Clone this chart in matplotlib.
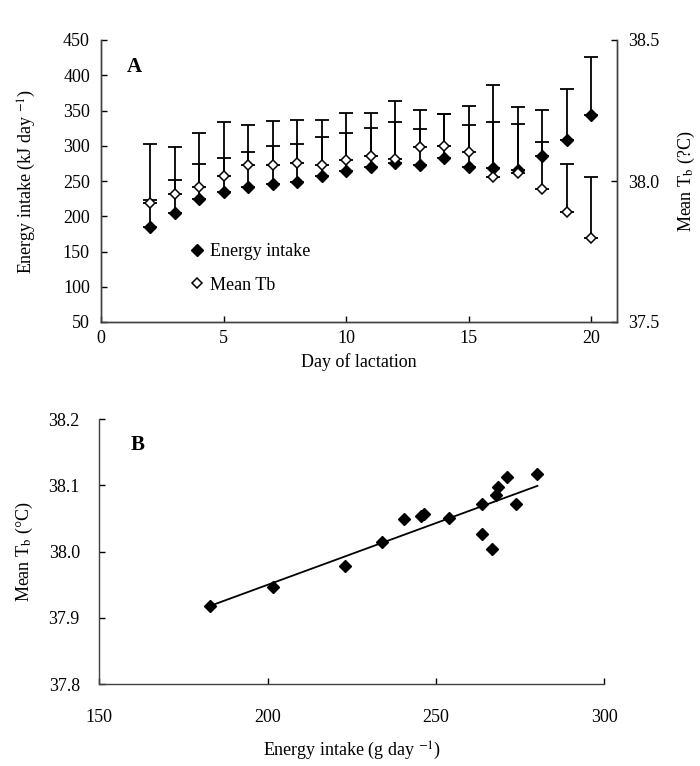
import numpy as np
import matplotlib
matplotlib.use('Agg')
import matplotlib.pyplot as plt
from matplotlib.lines import Line2D
from matplotlib.ticker import FormatStrFormatter

plt.rcParams['font.family'] = 'Liberation Serif'
plt.rcParams['mathtext.fontset'] = 'stix'
plt.rcParams['font.size'] = 13

# panel A: daily means with upper error bars
days = [2, 3, 4, 5, 6, 7, 8, 9, 10, 11, 12, 13, 14, 15, 16, 17, 18, 19, 20]
energy = [185, 204, 224, 234, 242, 246, 248, 257, 264, 270, 276, 273, 283, 270, 268, 266, 286, 308, 343]
energy_top = [302, 298, 318, 334, 330, 335, 337, 337, 346, 346, 363, 351, 345, 357, 386, 355, 351, 380, 426]
tb = [37.923, 37.955, 37.980, 38.018, 38.056, 38.056, 38.064, 38.056, 38.076, 38.090, 38.077,
      38.120, 38.123, 38.103, 38.015, 38.027, 37.970, 37.891, 37.799]
tb_top = [37.933, 38.004, 38.061, 38.081, 38.104, 38.124, 38.130, 38.157, 38.171, 38.187, 38.208,
          38.183, 38.237, 38.199, 38.208, 38.202, 38.139, 38.059, 38.013]

# panel B: mean Tb against energy intake
b_energy = [183.0, 201.5, 223.0, 233.9, 240.6, 245.6, 246.5, 254.0, 263.6, 263.6, 266.8, 267.8, 268.5, 271.2, 273.7, 280.2]
b_tb = [37.917, 37.947, 37.978, 38.015, 38.049, 38.053, 38.057, 38.051, 38.072, 38.026, 38.004, 38.086, 38.098, 38.113, 38.071, 38.117]

fig = plt.figure(figsize=(7.0, 7.66), dpi=100)


def style_axis(ax):
    ax.tick_params(direction='in', length=4, width=1, colors='black', pad=8)
    for s in ax.spines.values():
        s.set_color('#404040')
        s.set_linewidth(1)


# ---- A ----
ax1 = fig.add_axes([101 / 700, 1 - 322 / 766, 516 / 700, 282 / 766])
ax2 = ax1.twinx()
style_axis(ax1)
style_axis(ax2)
ax1.spines['top'].set_visible(False)
ax2.spines['top'].set_visible(False)

e = np.array(energy)
t = np.array(tb)
ax1.errorbar(days, e, yerr=[np.zeros(len(e)), np.array(energy_top) - e], fmt='none',
             ecolor='black', elinewidth=1.3, capsize=5, capthick=1.3, zorder=2)
ax1.plot(days, e, 'D', color='black', ms=6, zorder=3)
ax2.errorbar(days, t, yerr=[np.zeros(len(t)), np.array(tb_top) - t], fmt='none',
             ecolor='black', elinewidth=1.3, capsize=5, capthick=1.3, zorder=2)
ax2.plot(days, t, 'D', mfc='white', mec='black', mew=1.1, ms=5.5, zorder=3)

ax1.set_xlim(0, 21.06)
ax1.set_ylim(50, 450)
ax1.set_yticks(range(50, 451, 50))
ax1.set_xticks([0, 5, 10, 15, 20])
ax2.set_ylim(37.5, 38.5)
ax2.set_yticks([37.5, 38.0, 38.5])
ax2.yaxis.set_major_formatter(FormatStrFormatter('%.1f'))
ax1.tick_params(axis='x', pad=6)

ax1.set_xlabel('Day of lactation', labelpad=4)
ax1.set_ylabel(r'Energy intake (kJ day $^{-1}$)', labelpad=18)
ax2.set_ylabel(r'Mean T$_{\rm b}$ (?C)', labelpad=12)
ax1.text(0.064, 0.904, 'A', transform=ax1.transAxes, fontsize=15, fontweight='bold',
         ha='center', va='center')

handles = [Line2D([], [], marker='D', color='black', ls='none', ms=6),
           Line2D([], [], marker='D', mfc='white', mec='black', mew=1.1, ls='none', ms=5.5)]
ax1.legend(handles, ['Energy intake', 'Mean Tb'], loc='center left',
           bbox_to_anchor=(0.172, 0.19), frameon=False, handlelength=0.8,
           handletextpad=0.3, labelspacing=0.9, borderpad=0, borderaxespad=0)

# ---- B ----
ax3 = fig.add_axes([99.3 / 700, 1 - 684 / 766, 504.7 / 700, 265 / 766])
style_axis(ax3)
ax3.spines['top'].set_visible(False)
ax3.spines['right'].set_visible(False)
ax3.plot(b_energy, b_tb, 'D', color='black', ms=6.5, zorder=3)
slope, intercept = np.polyfit(b_energy, b_tb, 1)
fx = np.array([min(b_energy), max(b_energy)])
ax3.plot(fx, slope * fx + intercept, color='black', lw=1.3, zorder=2)

ax3.set_xlim(150, 300)
ax3.set_ylim(37.8, 38.2)
ax3.set_xticks([150, 200, 250, 300])
ax3.set_yticks([37.8, 37.9, 38.0, 38.1, 38.2])
ax3.yaxis.set_major_formatter(FormatStrFormatter('%.1f'))
ax3.tick_params(axis='x', pad=18)
ax3.tick_params(axis='y', pad=14)
ax3.set_xlabel(r'Energy intake (g day $^{-1}$)', labelpad=10)
ax3.set_ylabel(r'Mean T$_{\rm b}$ (°C)', labelpad=10)
ax3.text(0.075, 0.902, 'B', transform=ax3.transAxes, fontsize=15, fontweight='bold',
         ha='center', va='center')

fig.savefig('out.png', dpi=100)
